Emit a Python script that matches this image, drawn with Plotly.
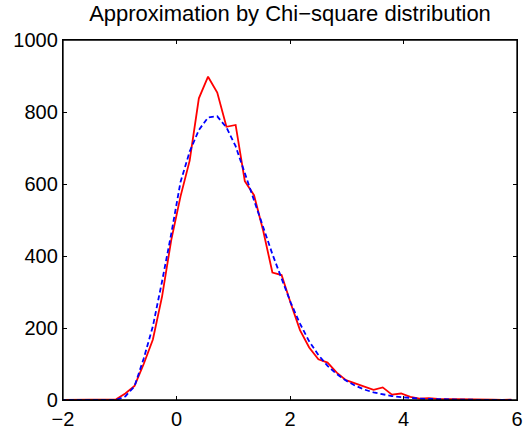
import plotly.graph_objects as go

title_text = "Approximation by Chi\u2212square distribution"

bin_centers = [-2.036, -1.874, -1.712, -1.550, -1.388, -1.226, -1.064, -0.902, -0.740, -0.578,
               -0.416, -0.254, -0.092, 0.070, 0.232, 0.394, 0.556, 0.718, 0.880, 1.042,
               1.204, 1.366, 1.528, 1.690, 1.852, 2.014, 2.176, 2.338, 2.500, 2.662,
               2.824, 2.986, 3.148, 3.310, 3.472, 3.634, 3.796, 3.958, 4.120, 4.282,
               4.444, 4.606, 4.768, 4.930, 5.092, 5.254, 5.416, 5.578, 5.740, 5.902]

hist_counts = [0, 0, 0, 0, 0, 1, 2, 18, 39, 100,
               168, 288, 445, 565, 665, 838, 898, 854, 759, 764,
               608, 569, 470, 354, 347, 268, 194, 146, 113, 104,
               76, 55, 46, 37, 28, 35, 15, 18, 9, 4,
               5, 3, 3, 2, 2, 1, 1, 1, 0, 1]

chi2_approx = [0, 0, 0, 0, 0, 0, 0, 10, 38, 115,
               205, 330, 462, 605, 690, 750, 785, 788, 757, 705,
               632, 558, 480, 405, 335, 270, 212, 163, 125, 95,
               72, 54, 40, 29, 21, 15, 11, 8, 5, 4,
               3, 2, 1.5, 1, 0.8, 0.6, 0.4, 0.3, 0.2, 0.1]

x_ticks = [-2, 0, 2, 4, 6]
y_ticks = [0, 200, 400, 600, 800, 1000]
x_range = [-2, 6]
y_range = [0, 1000]

fig = go.Figure()
fig.add_trace(go.Scatter(x=bin_centers, y=hist_counts, mode="lines",
                         line=dict(color="#ff0000", width=1.8), showlegend=False))
fig.add_trace(go.Scatter(x=bin_centers, y=chi2_approx, mode="lines",
                         line=dict(color="#0000ff", width=1.8, dash="5px,3px"), showlegend=False))

font_family = "Liberation Sans, Arial, Helvetica, sans-serif"
axis_common = dict(showgrid=False, zeroline=False, showline=True, linecolor="black",
                   linewidth=1.3, mirror="allticks", ticks="inside", ticklen=4,
                   tickcolor="black", tickwidth=1, automargin=False,
                   tickfont=dict(family=font_family, size=20, color="black"))

fig.update_layout(
    template="none",
    width=523, height=430,
    autosize=False,
    margin=dict(l=63, r=6, t=40, b=30, pad=0),
    paper_bgcolor="white", plot_bgcolor="white",
    title=dict(text=title_text, x=0.5, xref="paper", xanchor="center",
               y=1 - 13 / 430, yref="container", yanchor="middle",
               font=dict(family=font_family, size=22, color="black")),
    xaxis=dict(range=x_range, tickvals=x_ticks,
               ticktext=[("\u2212" + str(-v)) if v < 0 else str(v) for v in x_ticks],
               ticklabelstandoff=1,
               **axis_common),
    yaxis=dict(range=y_range, tickvals=y_ticks, ticktext=[str(v) for v in y_ticks],
               **axis_common),
    shapes=[dict(type="rect", xref="paper", yref="paper", x0=0, x1=1, y0=0, y1=1,
                 line=dict(color="black", width=1.3), layer="above")],
)

fig.write_html("out.html", config={"displayModeBar": False, "responsive": False},
               post_script="document.body.style.margin='0';document.body.style.overflow='hidden';")
